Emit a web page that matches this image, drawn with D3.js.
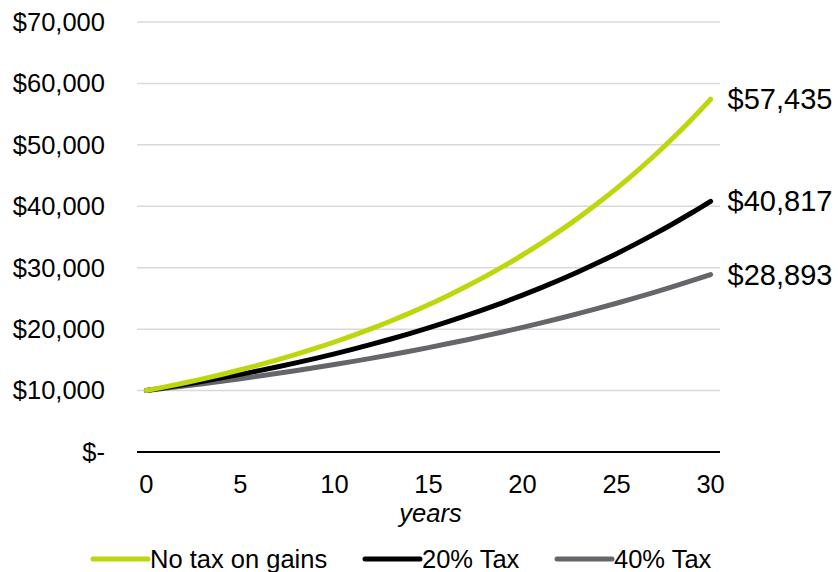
<!DOCTYPE html>
<html>
<head>
<meta charset="utf-8">
<script src="https://cdn.jsdelivr.net/npm/d3@7"></script>
<style>
    body { margin: 0; background: #fff; }
    svg text { font-family: "Liberation Sans", Arial, sans-serif; fill: #000; }
</style>
</head>
<body>
<div id="chart"></div>
<script>
const years = d3.range(0, 31);
const noTax = [10000, 10600, 11236, 11910, 12625, 13382, 14185, 15036, 15938, 16895,
    17908, 18983, 20122, 21329, 22609, 23966, 25404, 26928, 28543, 30256,
    32071, 33996, 36035, 38197, 40489, 42919, 45494, 48223, 51117, 54184, 57435];
const tax20 = [10000, 10480, 10983, 11510, 12063, 12642, 13249, 13884, 14551, 15249,
    15981, 16748, 17552, 18395, 19278, 20203, 21173, 22189, 23254, 24370,
    25540, 26766, 28051, 29397, 30808, 32287, 33837, 35461, 37163, 38947, 40817];
const tax40 = [10000, 10360, 10733, 11119, 11520, 11934, 12364, 12809, 13270, 13748,
    14243, 14756, 15287, 15837, 16407, 16998, 17610, 18244, 18901, 19581,
    20286, 21016, 21773, 22557, 23369, 24210, 25082, 25984, 26920, 27889, 28893];
const seriesNames = ["No tax on gains", "20% Tax", "40% Tax"];
const yTicks = [0, 10000, 20000, 30000, 40000, 50000, 60000, 70000];
const xTicks = [0, 5, 10, 15, 20, 25, 30];

const colors = ["#bed60e", "#000000", "#64666a"];
const series = [noTax, tax20, tax40].map((vals, i) => ({
    name: seriesNames[i],
    color: colors[i],
    values: vals.map((v, j) => ({ x: years[j], y: v }))
}));

const width = 838;
const height = 572;
const margin = { left: 137, right: 118, top: 22, bottom: 120 };

const svg = d3.select("#chart")
    .append("svg")
    .attr("width", width)
    .attr("height", height);

const xScale = d3.scaleLinear()
    .domain([-0.5, 30.5])
    .range([margin.left, width - margin.right]);

const yScale = d3.scaleLinear()
    .domain([0, 70000])
    .range([height - margin.bottom, margin.top]);

const fmt = d => d === 0 ? "$-" : "$" + d3.format(",")(d);

// gridlines
svg.selectAll(".grid")
    .data(yTicks.filter(d => d > 0))
    .join("line")
        .attr("class", "grid")
        .attr("x1", margin.left)
        .attr("x2", width - margin.right)
        .attr("y1", d => yScale(d))
        .attr("y2", d => yScale(d))
        .attr("stroke", "#d9d9d9")
        .attr("stroke-width", 1.5);

// y labels
svg.selectAll(".ylab")
    .data(yTicks)
    .join("text")
        .attr("class", "ylab")
        .attr("x", 105)
        .attr("y", d => yScale(d))
        .attr("dy", "0.35em")
        .attr("text-anchor", "end")
        .style("font-size", "25.5px")
        .text(fmt);

// x axis line
svg.append("line")
    .attr("x1", margin.left)
    .attr("x2", width - margin.right)
    .attr("y1", yScale(0))
    .attr("y2", yScale(0))
    .attr("stroke", "#000")
    .attr("stroke-width", 2);

svg.selectAll(".xlab")
    .data(xTicks)
    .join("text")
        .attr("class", "xlab")
        .attr("x", d => xScale(d))
        .attr("y", 493)
        .attr("text-anchor", "middle")
        .style("font-size", "25.5px")
        .text(d => d);

svg.append("text")
    .attr("x", (margin.left + width - margin.right) / 2 + 2)
    .attr("y", 522)
    .attr("text-anchor", "middle")
    .style("font-size", "25.5px")
    .style("font-style", "italic")
    .text("years");

const line = d3.line()
    .x(d => xScale(d.x))
    .y(d => yScale(d.y))
    .curve(d3.curveMonotoneX);

// draw grey first so green on top
svg.selectAll(".series")
    .data(series.slice().reverse())
    .join("path")
        .attr("class", "series")
        .attr("d", d => line(d.values))
        .attr("fill", "none")
        .attr("stroke", d => d.color)
        .attr("stroke-width", 5)
        .attr("stroke-linecap", "round");

// end labels
svg.selectAll(".endlab")
    .data(series)
    .join("text")
        .attr("class", "endlab")
        .attr("x", xScale(30) + 17)
        .attr("y", d => yScale(d.values[d.values.length - 1].y))
        .attr("dy", "0.35em")
        .style("font-size", "29px")
        .text(d => fmt(d.values[d.values.length - 1].y));

// legend
const legendX = [93, 365, 557];
const legendY = 559;
const legend = svg.selectAll(".legend")
    .data(series)
    .join("g")
        .attr("class", "legend")
        .attr("transform", (d, i) => `translate(${legendX[i]}, ${legendY})`);

legend.append("line")
    .attr("x1", 0)
    .attr("x2", 55)
    .attr("y1", 0)
    .attr("y2", 0)
    .attr("stroke", d => d.color)
    .attr("stroke-width", 5)
    .attr("stroke-linecap", "round");

legend.append("text")
    .attr("x", 57)
    .attr("y", 0)
    .attr("dy", "0.35em")
    .style("font-size", "25.5px")
    .text(d => d.name);
</script>
</body>
</html>
